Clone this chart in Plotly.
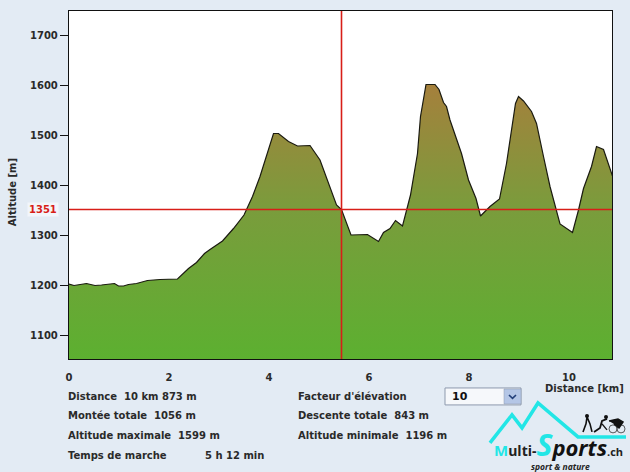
import plotly.graph_objects as go

distance_km = [0.00,0.10,0.35,0.52,0.65,0.91,0.99,1.09,1.19,1.35,1.57,1.82,2.17,2.39,2.55,2.71,2.82,3.07,3.29,3.50,3.67,3.82,4.09,4.19,4.39,4.57,4.82,5.02,5.35,5.45,5.64,5.97,6.19,6.29,6.42,6.53,6.67,6.83,6.97,7.03,7.14,7.32,7.40,7.49,7.55,7.62,7.85,7.99,8.14,8.23,8.42,8.61,8.75,8.87,8.93,8.99,9.09,9.25,9.35,9.49,9.62,9.82,10.07,10.19,10.29,10.45,10.55,10.69,10.87]
altitude_m = [1202,1199,1203,1199,1200,1203,1198,1198,1201,1203,1209,1211,1212,1233,1245,1263,1271,1288,1313,1340,1377,1417,1503,1503,1487,1478,1479,1450,1360,1351,1300,1301,1287,1305,1313,1329,1318,1380,1463,1537,1601,1601,1591,1565,1557,1530,1463,1410,1373,1338,1357,1372,1443,1517,1563,1577,1568,1547,1523,1457,1397,1322,1305,1350,1393,1437,1477,1471,1418]
cursor_km = 5.45
cursor_alt = 1351
x_ticks = [0,2,4,6,8,10]
y_ticks = [1100,1200,1300,1400,1500,1600,1700]
x_range = [0,10.86]
y_range = [1052,1748]

left_stats = [("Distance  10 km 873 m",66,397),("Montée totale  1056 m",66,416),("Altitude maximale  1599 m",66,436),("Temps de marche",66,456),("5 h 12 min",203,456)]
right_stats = [("Facteur d'élévation",296,397),("Descente totale  843 m",296,416),("Altitude minimale  1196 m",296,436)]

BG = "#e3ebf4"
FONT = "DejaVu Sans"
TXT = "#2a2a2a"
RED = "#d81e18"
CYAN = "#22e6e6"
L,R,T,B = 69,612,10.5,359
px = lambda v:(v-L)/(R-L)
py = lambda v:(B-v)/(B-T)

fig = go.Figure()
fig.add_trace(go.Scatter(x=distance_km,y=altitude_m,mode="lines",fill="tozeroy",
    line=dict(color="#1a1a10",width=1.2),
    fillgradient=dict(type="vertical",start=y_range[0],stop=1600,
        colorscale=[[0,"#5cb030"],[0.55,"#7a9c3c"],[1,"#a5803c"]]),
    hoverinfo="skip",showlegend=False))

ann = []
def text(x,y,s,size=10,color=TXT,anchor="left",bold=False,family=FONT,italic=False):
    if bold: s=f"<b>{s}</b>"
    if italic: s=f"<i>{s}</i>"
    ann.append(dict(xref="paper",yref="paper",x=px(x),y=py(y),text=s,showarrow=False,xanchor=anchor,yanchor="middle",
        font=dict(family=family,size=size,color=color)))
for s,x,y in left_stats+right_stats: text(x,y,s,bold=True,size=10)
text(626,389,"Distance [km]",anchor="right",bold=True,size=10)
ann.append(dict(xref="paper",yref="paper",x=px(12),y=py(192),text="<b>Altitude [m]</b>",textangle=-90,showarrow=False,xanchor="center",yanchor="middle",font=dict(family=FONT,size=10,color=TXT)))
ann.append(dict(xref="paper",yref="y",x=px(43),y=cursor_alt,text="<b>1351</b>",showarrow=False,xanchor="center",yanchor="middle",bgcolor="#f2f5fa",borderpad=1,font=dict(family=FONT,size=10,color=RED)))
text(450,397,"10",size=11,bold=True,color="#111")
logo = (f"<span style='color:{CYAN};font-size:15px'><b>M</b></span>"
        "<span style='font-size:14px'><b>ulti-</b></span>"
        f"<span style='color:{CYAN};font-size:30px'><b><i>S</i></b></span>"
        "<span style='color:#111;font-size:22px'><b><i>ports</i></b></span>"
        "<span style='font-size:11px'><b>.ch</b></span>")
text(492,445,logo,size=14,color="#222",family="Open Sans")
text(529,467,"sport &amp; nature",size=8.5,color="#222",italic=True,family="Open Sans",bold=True)

def shp(**k):
    k.setdefault("xref","paper"); k.setdefault("yref","paper"); return k
def path(pts):
    return "M"+" L".join(f"{px(a):.4f},{py(b):.4f}" for a,b in pts)
shapes=[
 dict(type="line",xref="x",yref="y",x0=x_range[0],x1=x_range[1],y0=cursor_alt,y1=cursor_alt,line=dict(color=RED,width=1.6),layer="above"),
 dict(type="line",xref="x",yref="y",x0=cursor_km,x1=cursor_km,y0=y_range[0],y1=y_range[1],line=dict(color=RED,width=1.6),layer="above"),
 shp(type="rect",x0=px(445),x1=px(521),y0=py(388),y1=py(405),fillcolor="#f6f8fb",line=dict(color="#8d99ad",width=1)),
 shp(type="rect",x0=px(504),x1=px(521),y0=py(389),y1=py(404),fillcolor="#b4c6e6",line=dict(color="#8d99ad",width=0.5)),
 shp(type="path",path=path([(509,395),(512.5,398.5),(516,395)]),line=dict(color="#23407a",width=1.6)),
 shp(type="path",path=path([(490,443),(512,415),(522,428),(538,403),(578,437),(626,437)]),line=dict(color=CYAN,width=3.5)),
 shp(type="path",path=path([(583,432),(586,424),(587,417),(590,424),(592,432)]),line=dict(color="#111",width=1.6)),
 shp(type="circle",x0=px(585),x1=px(589),y0=py(418),y1=py(414),fillcolor="#111",line=dict(width=0)),
 shp(type="path",path=path([(594,432),(600,428),(602,421),(607,419)]),line=dict(color="#111",width=1.8)),
 shp(type="path",path=path([(602,424),(607,430)]),line=dict(color="#111",width=1.4)),
 shp(type="circle",x0=px(604),x1=px(608),y0=py(419),y1=py(415),fillcolor="#111",line=dict(width=0)),
 shp(type="circle",x0=px(609),x1=px(617),y0=py(433),y1=py(425),line=dict(color="#333",width=0.8)),
 shp(type="circle",x0=px(617),x1=px(625),y0=py(433),y1=py(425),line=dict(color="#333",width=0.8)),
 shp(type="path",path=path([(609,421),(618,419),(623,422),(619,428),(614,424)]),fillcolor="#111",line=dict(color="#111",width=1.5)),
]
fig.update_layout(width=630,height=472,autosize=False,paper_bgcolor=BG,plot_bgcolor="white",
    margin=dict(l=L,r=630-R,t=T,b=472-B,pad=0),annotations=ann,shapes=shapes,showlegend=False,
    font=dict(family=FONT,size=10,color=TXT),
    xaxis=dict(range=x_range,tickvals=x_ticks,ticks="outside",ticklen=9,tickcolor=BG,showgrid=False,zeroline=False,showline=True,mirror=True,linecolor="#111",linewidth=1.3,tickfont=dict(family=FONT,size=10,color=TXT,weight="bold")),
    yaxis=dict(range=y_range,tickvals=y_ticks,ticks="outside",ticklen=8,tickcolor="#111",showgrid=False,zeroline=False,showline=True,mirror=True,linecolor="#111",linewidth=1.3,tickfont=dict(family=FONT,size=10,color=TXT,weight="bold")))
fig.write_html("out.html",config=dict(displayModeBar=False),post_script="document.body.style.margin='0';")
